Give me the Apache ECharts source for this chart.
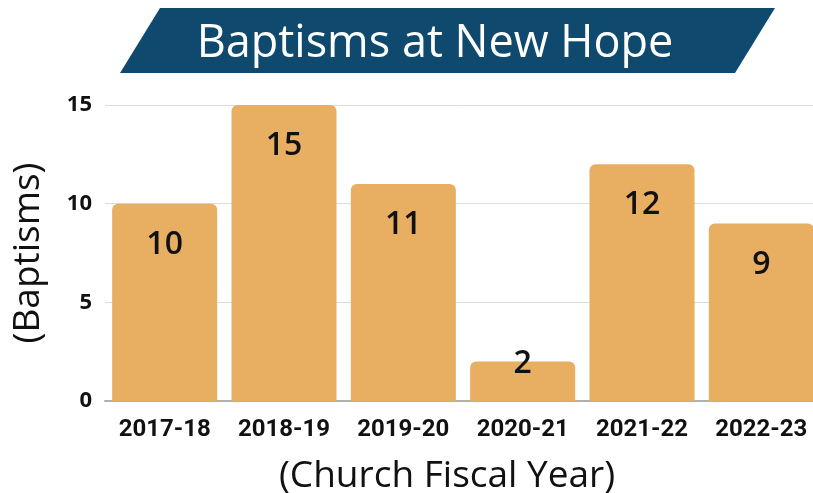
<!DOCTYPE html>
<html><head><meta charset="utf-8">
<script src="https://cdn.jsdelivr.net/npm/echarts@6/dist/echarts.min.js"></script>
<style>html,body{margin:0;padding:0;background:#fff}#c{width:813px;height:493px}</style>
</head><body><div id="c"></div>
<script>
const categories = ['2017-18','2018-19','2019-20','2020-21','2021-22','2022-23'];
const baptisms = [10, 15, 11, 2, 12, 9];
const yTicks = [0, 5, 10, 15];
const titleText = 'Baptisms at New Hope';
const yName = '(Baptisms)';
const xName = '(Church Fiscal Year)';

const chart = echarts.init(document.getElementById('c'));
const data = baptisms.map(v => v < 4 ? {value: v, label: {position: 'top', distance: -18}} : v);
chart.setOption({
  animation: false,
  graphic: [
    {type: 'polygon', shape: {points: [[160,8],[775,8],[735,73],[120,73]]}, style: {fill: '#0F4A6E'}},
    {type: 'text', style: {text: titleText, x: 435, y: 44, textAlign: 'center', textVerticalAlign: 'middle', fill: '#fff', font: '500 45px "Open Sans"'}}
  ],
  grid: {left: 105, right: -8, top: 105, bottom: 92, outerBoundsMode: 'none', containLabel: false},
  xAxis: {
    type: 'category', data: categories,
    axisTick: {show: false},
    axisLine: {lineStyle: {color: '#b0b0b0', width: 2}},
    axisLabel: {color: '#111', fontWeight: 'bold', fontSize: 24, fontFamily: '"Liberation Sans Narrow", Roboto, sans-serif', margin: 17, interval: 0},
    name: xName, nameLocation: 'middle', nameGap: 57,
    nameTextStyle: {fontSize: 37, color: '#111', fontFamily: '"Open Sans"', padding: [0, 32, 0, 0]}
  },
  yAxis: {
    type: 'value', min: yTicks[0], max: yTicks[yTicks.length-1], interval: 5,
    axisLine: {show: false}, axisTick: {show: false},
    splitLine: {lineStyle: {color: '#dddddd'}},
    axisLabel: {color: '#111', fontWeight: 'bold', fontSize: 22, fontFamily: '"Open Sans"', margin: 13},
    name: yName, nameLocation: 'middle', nameGap: 58, nameRotate: 90,
    nameTextStyle: {fontSize: 37, color: '#111', fontFamily: '"Open Sans"'}
  },
  series: [{
    type: 'bar', data: data, barCategoryGap: '12%',
    itemStyle: {color: '#E8AE62', borderRadius: [6, 6, 0, 0]},
    label: {show: true, position: 'insideTop', distance: 25, color: '#111', fontSize: 32, fontWeight: 600, fontFamily: '"Open Sans"'}
  }]
});
</script></body></html>
